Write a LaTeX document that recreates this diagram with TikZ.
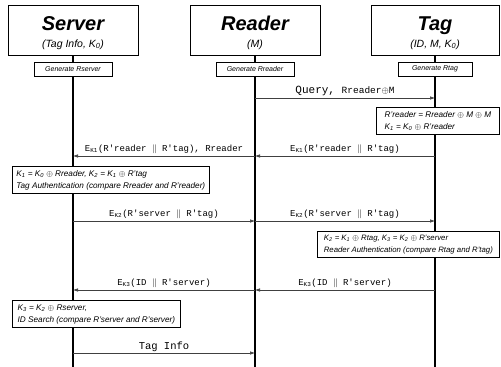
\documentclass[tikz,border=0pt]{standalone}
\usepackage{fontspec}
\setmainfont{Liberation Sans}
\newfontfamily\msgfont{Liberation Mono}
\usetikzlibrary{arrows.meta}
\begin{document}
\begin{tikzpicture}[x=1pt,y=-1pt,
  head/.style={draw, line width=0.8pt, minimum width=130pt, minimum height=50pt, inner sep=0pt},
  titlef/.style={anchor=base, inner sep=0pt, font=\fontsize{20}{22}\selectfont\bfseries\itshape},
  subf/.style={anchor=base, inner sep=0pt, font=\fontsize{10.5}{12}\selectfont\itshape},
  genbox/.style={draw, fill=white, line width=0.6pt, font=\fontsize{7}{8}\selectfont\itshape, minimum height=14pt, minimum width=78pt, inner sep=1pt},
  calcbox/.style={draw, fill=white, line width=0.8pt, font=\fontsize{8.2}{12}\selectfont\itshape, align=left, anchor=north west, inner sep=4pt, text depth=1pt},
  life/.style={line width=1.6pt},
  msg/.style={line width=0.6pt, draw=black!75, -{Latex[length=5pt,width=3.5pt]}},
  lbl/.style={midway, above=1.5pt, inner sep=0pt, font=\msgfont\fontsize{9}{10}\selectfont}
]
\useasboundingbox (0,0) rectangle (501,367);
% headers
\node[head] (server) at (73,30) {};
\node[head] (reader) at (255,30) {};
\node[head, minimum width=128pt] (tag) at (435,30) {};
\node[titlef] (servert) at (73,30) {Server};
\node[subf] (servers) at (73,47) {(Tag Info, K\textsubscript{0})};
\node[titlef] (readert) at (255,30) {Reader};
\node[subf] (readers) at (255,47) {(M)};
\node[titlef] (tagt) at (435,30) {Tag};
\node[subf] (tags) at (435,47) {(ID, M, K\textsubscript{0})};
% lifeline ends
\coordinate (send) at (73,367);
\coordinate (rend) at (255,367);
\coordinate (tend) at (435,367);
\draw[life] (server.south) -- (send);
\draw[life] (reader.south) -- (rend);
\draw[life] (tag.south) -- (tend);
% generate boxes
\node[genbox] (gs) at (73,69) {Generate Rserver};
\node[genbox] (gr) at (255,69) {Generate Rreader};
\node[genbox, minimum width=74pt] (gt) at (435,69) {Generate Rtag};
% message anchor points
\coordinate (r1) at (255,98);  \coordinate (t1) at (435,98);
\coordinate (t2) at (435,156); \coordinate (r2) at (255,156);
\coordinate (s2) at (73,156);
\coordinate (s3) at (73,221);  \coordinate (r3) at (255,221);
\coordinate (t3) at (435,221);
\coordinate (t4) at (435,290); \coordinate (r4) at (255,290);
\coordinate (s4) at (73,290);
\coordinate (s5) at (73,353);  \coordinate (r5) at (255,353);
% messages
\draw[msg] (r1) -- node[lbl]{\fontsize{11}{12}\selectfont Query, \fontsize{9.5}{10}\selectfont Rreader$\oplus$M} (t1);
\draw[msg] (t2) -- node[lbl]{E\textsubscript{K1}(R'reader $\|$ R'tag)} (r2);
\draw[msg] (r2) -- node[lbl]{E\textsubscript{K1}(R'reader $\|$ R'tag), Rreader} (s2);
\draw[msg] (s3) -- node[lbl]{E\textsubscript{K2}(R'server $\|$ R'tag)} (r3);
\draw[msg] (r3) -- node[lbl]{E\textsubscript{K2}(R'server $\|$ R'tag)} (t3);
\draw[msg] (t4) -- node[lbl]{E\textsubscript{K3}(ID $\|$ R'server)} (r4);
\draw[msg] (r4) -- node[lbl]{E\textsubscript{K3}(ID $\|$ R'server)} (s4);
\draw[msg] (s5) -- node[lbl, font=\msgfont\fontsize{10.5}{11}\selectfont]{Tag Info} (r5);
% computation boxes
\node[calcbox, minimum width=123pt] (c1) at (376,107) {R'reader = Rreader $\oplus$ M $\oplus$ M\\K\textsubscript{1} = K\textsubscript{0} $\oplus$ R'reader};
\node[calcbox, minimum width=195pt] (c2) at (12,166) {K\textsubscript{1} = K\textsubscript{0} $\oplus$ Rreader, K\textsubscript{2} = K\textsubscript{1} $\oplus$ R'tag\\Tag Authentication (compare Rreader and R'reader)};
\node[calcbox, minimum width=182pt, inner xsep=3pt, font=\fontsize{7.8}{12}\selectfont\itshape] (c3) at (317,231) {K\textsubscript{2} = K\textsubscript{1} $\oplus$ Rtag, K\textsubscript{3} = K\textsubscript{2} $\oplus$ R'server\\Reader Authentication (compare Rtag and R'tag)};
\node[calcbox, minimum width=168pt] (c4) at (12,300) {K\textsubscript{3} = K\textsubscript{2} $\oplus$ Rserver,\\ID Search (compare R'server and R'server)};
\end{tikzpicture}
\end{document}
